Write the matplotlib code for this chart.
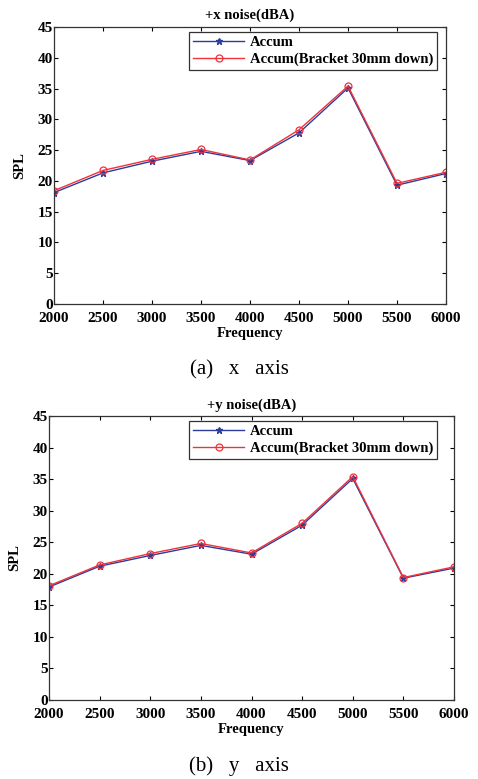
import matplotlib
matplotlib.use("Agg")
import matplotlib.pyplot as plt

freq = [2000, 2500, 3000, 3500, 4000, 4500, 5000, 5500, 6000]
x_accum = [18.1, 21.3, 23.2, 24.8, 23.3, 27.8, 35.1, 19.3, 21.2]
x_bracket = [18.4, 21.7, 23.5, 25.1, 23.4, 28.3, 35.4, 19.6, 21.4]
y_accum = [17.9, 21.2, 22.9, 24.5, 23.1, 27.7, 35.1, 19.3, 20.9]
y_bracket = [18.1, 21.4, 23.2, 24.8, 23.3, 28.0, 35.4, 19.4, 21.1]
titles = ["+x noise(dBA)", "+y noise(dBA)"]
captions = ["(a)   x   axis", "(b)   y   axis"]
labels = ["Accum", "Accum(Bracket 30mm down)"]
yticks = [0, 5, 10, 15, 20, 25, 30, 35, 40, 45]

plt.rcParams['font.family'] = ['Liberation Serif', 'DejaVu Serif']

W, H = 478, 779
fig = plt.figure(figsize=(W / 100, H / 100), dpi=100)

# axes rects in pixels: left, top, right, bottom
rects = [(54, 27, 446, 304), (49, 416, 454, 700)]
legend_corner = [(437, 32), (437, 421)]  # upper-right corner of legend, pixels
cap_y = [370, 766]
series = [(x_accum, x_bracket), (y_accum, y_bracket)]

blue = '#2b3d9c'
red = '#f0323c'

for i, (l, t, r, b) in enumerate(rects):
    ax = fig.add_axes([l / W, 1 - b / H, (r - l) / W, (b - t) / H])
    a, br = series[i]
    ax.plot(freq, a, color=blue, marker='*', markersize=5, linewidth=1.0, label=labels[0])
    ax.plot(freq, br, color=red, marker='o', markersize=5, markerfacecolor='none',
            markeredgewidth=0.9, linewidth=1.0, label=labels[1])
    ax.set_xlim(2000, 6000)
    ax.set_ylim(0, 45)
    ax.set_xticks(freq)
    ax.set_yticks(yticks)
    ax.tick_params(direction='in', top=True, right=True, length=3, width=0.8, pad=1,
                   labelsize=11)
    ax.tick_params(axis='x', pad=5.5)
    for lab in ax.get_xticklabels() + ax.get_yticklabels():
        lab.set_fontweight('bold')
    for s in ax.spines.values():
        s.set_linewidth(0.9)
        s.set_color('#333333')
    ax.set_title(titles[i], fontsize=10.5, fontweight='bold', pad=6 if i == 0 else 5)
    ax.set_xlabel("Frequency", fontsize=10.5, fontweight='bold', labelpad=1.5)
    ax.set_ylabel("SPL", fontsize=10.5, fontweight='bold', labelpad=8)
    lx, ly = legend_corner[i]
    leg = ax.legend(loc='upper right', prop={'weight': 'bold', 'size': 10.5},
                    bbox_to_anchor=((lx - l) / (r - l), (b - ly) / (b - t)),
                    fancybox=False, edgecolor='#333333', framealpha=1,
                    borderpad=0.25, handlelength=3.5, handletextpad=0.4,
                    labelspacing=0.25, borderaxespad=0.0)
    leg.get_frame().set_linewidth(0.9)
    fig.text(0.5, 1 - cap_y[i] / H, captions[i], ha='center', va='center', fontsize=15)

fig.savefig("out.png", dpi=100)
